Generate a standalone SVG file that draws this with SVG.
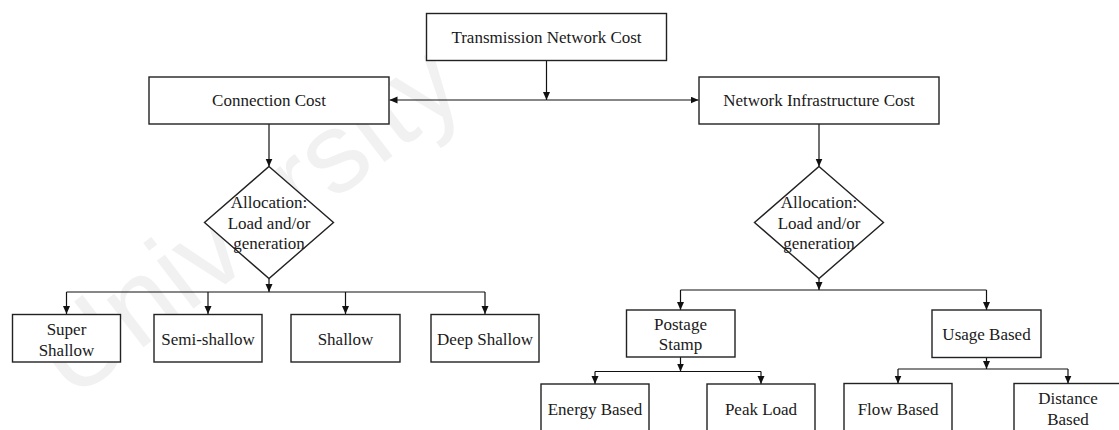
<svg xmlns="http://www.w3.org/2000/svg" width="1119" height="430" viewBox="0 0 1119 430">
<style>
.box{fill:#fff;stroke:#222;stroke-width:1.4}
.lbl{font-family:"Liberation Serif","Times New Roman",serif;font-size:17px;fill:#1a1a1a;text-anchor:middle}
.con{fill:none;stroke:#111;stroke-width:1.2}
.wm{font-family:"Liberation Sans",Arial,sans-serif;font-size:114px;fill:#f1f1f1}
</style>
<defs>
<marker id="ah" markerUnits="userSpaceOnUse" markerWidth="8" markerHeight="8" refX="8" refY="3.5" orient="auto">
<path d="M0,0 L8,3.5 L0,7 z" fill="#111"/>
</marker>
</defs>
<rect width="1119" height="430" fill="#fff"/>
<text class="wm" x="72" y="402" transform="rotate(-37.5 72 402)">University</text>
<g id="connectors">
<path class="con" d="M546.5,61 V100" marker-end="url(#ah)"/>
<path class="con" d="M546.5,100 H389.5" marker-end="url(#ah)"/>
<path class="con" d="M546.5,100 H698.5" marker-end="url(#ah)"/>
<path class="con" d="M269,124 V166.5" marker-end="url(#ah)"/>
<path class="con" d="M819,124 V166.5" marker-end="url(#ah)"/>
<path class="con" d="M269,278.5 V292" marker-end="url(#ah)"/>
<path class="con" d="M66.5,292 H485"/>
<path class="con" d="M66.5,292 V314" marker-end="url(#ah)"/>
<path class="con" d="M208,292 V314" marker-end="url(#ah)"/>
<path class="con" d="M345.5,292 V314" marker-end="url(#ah)"/>
<path class="con" d="M485,292 V314" marker-end="url(#ah)"/>
<path class="con" d="M819,278.5 V290" marker-end="url(#ah)"/>
<path class="con" d="M680.5,290 H986.5"/>
<path class="con" d="M680.5,290 V310" marker-end="url(#ah)"/>
<path class="con" d="M986.5,290 V310" marker-end="url(#ah)"/>
<path class="con" d="M680.5,357 V371.5" marker-end="url(#ah)"/>
<path class="con" d="M595,371.5 H761"/>
<path class="con" d="M595,371.5 V384" marker-end="url(#ah)"/>
<path class="con" d="M761,371.5 V384" marker-end="url(#ah)"/>
<path class="con" d="M986.5,357.5 V369" marker-end="url(#ah)"/>
<path class="con" d="M898,369 H1068"/>
<path class="con" d="M898,369 V383.5" marker-end="url(#ah)"/>
<path class="con" d="M1068,369 V383.5" marker-end="url(#ah)"/>
</g>
<g id="transmission"><rect class="box" x="426.5" y="13.5" width="240" height="47"/><text class="lbl" x="546.5" y="43">Transmission Network Cost</text></g>
<g id="connection"><rect class="box" x="149" y="77" width="240" height="47"/><text class="lbl" x="269" y="106">Connection Cost</text></g>
<g id="network"><rect class="box" x="699" y="77" width="240" height="47"/><text class="lbl" x="819" y="106">Network Infrastructure Cost</text></g>
<g id="allocL"><polygon class="box" points="269,166.5 333.5,222.5 269,278.5 204.5,222.5"/><text class="lbl" x="269" y="208">Allocation:</text><text class="lbl" x="269" y="228.5">Load and/or</text><text class="lbl" x="269" y="249">generation</text></g>
<g id="allocR"><polygon class="box" points="819,166.5 883.5,222.5 819,278.5 754.5,222.5"/><text class="lbl" x="819" y="208">Allocation:</text><text class="lbl" x="819" y="228.5">Load and/or</text><text class="lbl" x="819" y="249">generation</text></g>
<g id="superShallow"><rect class="box" x="12.5" y="314.5" width="108" height="47.5"/><text class="lbl" x="66.5" y="335">Super</text><text class="lbl" x="66.5" y="355.5">Shallow</text></g>
<g id="semiShallow"><rect class="box" x="154" y="314.5" width="108" height="47.5"/><text class="lbl" x="208" y="344.5">Semi-shallow</text></g>
<g id="shallow"><rect class="box" x="291" y="314.5" width="109" height="47.5"/><text class="lbl" x="345.5" y="344.5">Shallow</text></g>
<g id="deepShallow"><rect class="box" x="431" y="314.5" width="108" height="47.5"/><text class="lbl" x="485" y="344.5">Deep Shallow</text></g>
<g id="postage"><rect class="box" x="626.5" y="310" width="108.5" height="47"/><text class="lbl" x="680.5" y="329.5">Postage</text><text class="lbl" x="680.5" y="350">Stamp</text></g>
<g id="usage"><rect class="box" x="932" y="310" width="109" height="47.5"/><text class="lbl" x="986.5" y="340">Usage Based</text></g>
<g id="energy"><rect class="box" x="541" y="384" width="108" height="50"/><text class="lbl" x="595" y="415">Energy Based</text></g>
<g id="peak"><rect class="box" x="707" y="384" width="108" height="50"/><text class="lbl" x="761" y="415">Peak Load</text></g>
<g id="flow"><rect class="box" x="844" y="383.5" width="108" height="50"/><text class="lbl" x="898" y="415">Flow Based</text></g>
<g id="distance"><rect class="box" x="1014" y="383.5" width="108" height="50"/><text class="lbl" x="1068" y="404">Distance</text><text class="lbl" x="1068" y="424.5">Based</text></g>
</svg>
